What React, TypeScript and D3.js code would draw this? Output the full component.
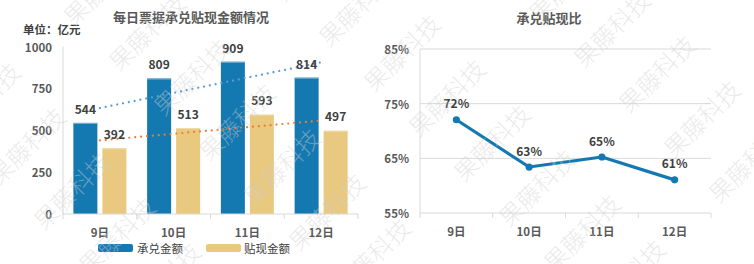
import React, { useEffect } from 'react';
import * as d3 from 'd3';

// ---------- data ----------
const categories: string[] = ['9日', '10日', '11日', '12日'];
const acceptanceAmount: number[] = [544, 809, 909, 814];
const discountAmount: number[] = [392, 513, 593, 497];
const discountRatio: number[] = [72.06, 63.41, 65.24, 61.06];
const leftTicks: number[] = [0, 250, 500, 750, 1000];
const rightTicks: number[] = [55, 65, 75, 85];
const seriesNames: string[] = ['承兑金额', '贴现金额'];
const leftTitle = '每日票据承兑贴现金额情况';
const rightTitle = '承兑贴现比';
const unitLabel = '单位：亿元';
const watermarkText = '果藤科技';

// ---------- styles ----------
const W = 754;
const H = 264;
const FONT = '"Noto Sans CJK SC", "Noto Sans", sans-serif';
const BLUE = '#1579b1';
const YELLOW = '#e8c97f';
const TREND_BLUE = '#5b9bd5';
const TREND_ORANGE = '#ed7d31';
const AXIS = '#d9d9d9';
const TICK_TEXT = '#595959';
const LABEL_TEXT = '#404040';

function trend(values: number[]): [number, number] {
  const xs = values.map((_, i) => i);
  const mx = d3.mean(xs) as number;
  const my = d3.mean(values) as number;
  const num = d3.sum(xs, (x, i) => (x - mx) * (values[i] - my));
  const den = d3.sum(xs, (x) => (x - mx) * (x - mx));
  const slope = num / den;
  const intercept = my - slope * mx;
  return [intercept, intercept + slope * (values.length - 1)];
}

export default function App() {
  useEffect(() => {
    document.body.style.margin = '0';
  }, []);

  // left chart scales
  const xL = d3.scaleBand<string>().domain(categories).range([63, 358]);
  const inner = d3
    .scaleBand<string>()
    .domain(['a', 'd'])
    .range([0, 53])
    .paddingInner(2 - 53 / 29);
  const innerOffset = (xL.bandwidth() - 53) / 2;
  const yL = d3.scaleLinear().domain([0, 1000]).range([214, 46.5]);

  // right chart scales
  const xR = d3.scaleBand<string>().domain(categories).range([420, 711]);
  const yR = d3.scaleLinear().domain([55, 85]).range([213, 49]);

  const cxL = (c: string) => (xL(c) as number) + xL.bandwidth() / 2;
  const cxR = (c: string) => (xR(c) as number) + xR.bandwidth() / 2;

  const tA = trend(acceptanceAmount);
  const tD = trend(discountAmount);
  const first = categories[0];
  const last = categories[categories.length - 1];

  const line = d3
    .line<number>()
    .x((_, i) => cxR(categories[i]))
    .y((d) => yR(d));

  // watermark lattice
  const marks: { x: number; y: number }[] = [];
  for (let i = -12; i <= 12; i++) {
    for (let j = -12; j <= 12; j++) {
      const gx = 120 + i * 45 + j * 120;
      const gy = 57 + i * 45 - j * 114;
      const cx = gx + 26;
      const cy = gy - 26;
      if (cx > -60 && cx < W + 60 && cy > -60 && cy < H + 60) marks.push({ x: cx, y: cy });
    }
  }

  const bold = { fontFamily: FONT, fontWeight: 700 } as const;

  return (
    <svg
      width={W}
      height={H}
      style={{ position: 'absolute', left: 0, top: 0, background: '#fff', display: 'block' }}
    >
      <rect x={0} y={0} width={W} height={H} fill="#fff" />

      {/* ===== Left chart ===== */}
      <text x={191} y={16} textAnchor="middle" dominantBaseline="central" fontSize={13} fill={TICK_TEXT} {...bold}>
        {leftTitle}
      </text>
      <text x={23} y={29} dominantBaseline="central" fontSize={11.5} fill={LABEL_TEXT} {...bold}>
        {unitLabel}
      </text>

      {/* y axis */}
      <line x1={63} x2={63} y1={yL(1000)} y2={yL(0)} stroke={AXIS} strokeWidth={1} />
      {leftTicks.map((t) => (
        <text key={t} x={52} y={yL(t)} textAnchor="end" dominantBaseline="central" fontSize={11.5} fill={TICK_TEXT} {...bold}>
          {t}
        </text>
      ))}

      {/* bars */}
      {categories.map((c, i) => {
        const x0 = (xL(c) as number) + innerOffset;
        const xa = x0 + (inner('a') as number);
        const xd = x0 + (inner('d') as number);
        const bw = inner.bandwidth();
        return (
          <g key={c}>
            <rect x={xa} y={yL(acceptanceAmount[i])} width={bw} height={yL(0) - yL(acceptanceAmount[i])} fill={BLUE} />
            <rect x={xa} y={yL(acceptanceAmount[i])} width={bw} height={1} fill="#7fb6d8" />
            <rect x={xd} y={yL(discountAmount[i])} width={bw} height={yL(0) - yL(discountAmount[i])} fill={YELLOW} />
            <rect x={xd} y={yL(discountAmount[i])} width={bw} height={1} fill="#f1dca8" />
          </g>
        );
      })}

      {/* x axis */}
      <line x1={63} x2={358} y1={yL(0)} y2={yL(0)} stroke={AXIS} strokeWidth={1} />
      {[...categories.map((c) => xL(c) as number), 358].map((x, i) => (
        <line key={i} x1={x} x2={x} y1={yL(0)} y2={yL(0) + 5} stroke={AXIS} strokeWidth={1} />
      ))}
      {categories.map((c) => (
        <text key={c} x={cxL(c)} y={232} textAnchor="middle" dominantBaseline="central" fontSize={11.5} fill={TICK_TEXT} {...bold}>
          {c}
        </text>
      ))}

      {/* trend lines */}
      <line
        x1={cxL(first)}
        y1={yL(tA[0])}
        x2={cxL(last)}
        y2={yL(tA[1])}
        stroke={TREND_BLUE}
        strokeWidth={2.2}
        strokeLinecap="round"
        strokeDasharray="0.01 5.9"
      />
      <line
        x1={cxL(first)}
        y1={yL(tD[0])}
        x2={cxL(last)}
        y2={yL(tD[1])}
        stroke={TREND_ORANGE}
        strokeWidth={2.2}
        strokeLinecap="round"
        strokeDasharray="0.01 5.9"
      />

      {/* data labels */}
      {categories.map((c, i) => {
        const x0 = (xL(c) as number) + innerOffset;
        const bw = inner.bandwidth();
        const xa = x0 + (inner('a') as number) + bw / 2;
        const xd = x0 + (inner('d') as number) + bw / 2;
        return (
          <g key={c}>
            <text x={xa} y={yL(acceptanceAmount[i]) - 14.5} textAnchor="middle" dominantBaseline="central" fontSize={12} fill={LABEL_TEXT} {...bold}>
              {acceptanceAmount[i]}
            </text>
            <text x={xd} y={yL(discountAmount[i]) - 15} textAnchor="middle" dominantBaseline="central" fontSize={12} fill={LABEL_TEXT} {...bold}>
              {discountAmount[i]}
            </text>
          </g>
        );
      })}

      {/* legend */}
      <rect x={98} y={244} width={35} height={8} rx={2} fill={BLUE} />
      <text x={137} y={248} dominantBaseline="central" fontSize={11.5} fill={LABEL_TEXT} fontFamily={FONT}>
        {seriesNames[0]}
      </text>
      <rect x={206} y={244} width={35} height={8} rx={2} fill={YELLOW} />
      <text x={244} y={248} dominantBaseline="central" fontSize={11.5} fill={LABEL_TEXT} fontFamily={FONT}>
        {seriesNames[1]}
      </text>

      {/* ===== Right chart ===== */}
      <text x={549} y={17} textAnchor="middle" dominantBaseline="central" fontSize={13} fill={TICK_TEXT} {...bold}>
        {rightTitle}
      </text>
      {rightTicks.map((t) => (
        <g key={t}>
          <line x1={420} x2={711} y1={yR(t)} y2={yR(t)} stroke={AXIS} strokeWidth={1} />
          <text x={409} y={yR(t)} textAnchor="end" dominantBaseline="central" fontSize={11.5} fill={TICK_TEXT} {...bold}>
            {t}%
          </text>
        </g>
      ))}
      <line x1={420} x2={420} y1={yR(85)} y2={yR(55)} stroke={AXIS} strokeWidth={1} />
      {[...categories.map((c) => xR(c) as number), 711].map((x, i) => (
        <line key={i} x1={x} x2={x} y1={yR(55)} y2={yR(55) + 5} stroke={AXIS} strokeWidth={1} />
      ))}
      {categories.map((c) => (
        <text key={c} x={cxR(c)} y={231} textAnchor="middle" dominantBaseline="central" fontSize={11.5} fill={TICK_TEXT} {...bold}>
          {c}
        </text>
      ))}
      <path d={line(discountRatio) as string} fill="none" stroke={BLUE} strokeWidth={3.2} strokeLinejoin="round" />
      {discountRatio.map((v, i) => (
        <g key={i}>
          <circle cx={cxR(categories[i])} cy={yR(v)} r={3.6} fill={BLUE} />
          <text x={cxR(categories[i])} y={yR(v) - 17} textAnchor="middle" dominantBaseline="central" fontSize={12} fill={LABEL_TEXT} {...bold}>
            {Math.round(v)}%
          </text>
        </g>
      ))}

      {/* ===== watermark ===== */}
      <g pointerEvents="none">
        {marks.map((m, k) => (
          <text
            key={k}
            x={m.x}
            y={m.y}
            transform={`rotate(-45 ${m.x} ${m.y})`}
            textAnchor="middle"
            dominantBaseline="central"
            fontSize={24}
            fontFamily={FONT}
            fontWeight={300}
            fill="#cfcfcf"
            fillOpacity={0.45}
          >
            {watermarkText}
          </text>
        ))}
      </g>
    </svg>
  );
}
